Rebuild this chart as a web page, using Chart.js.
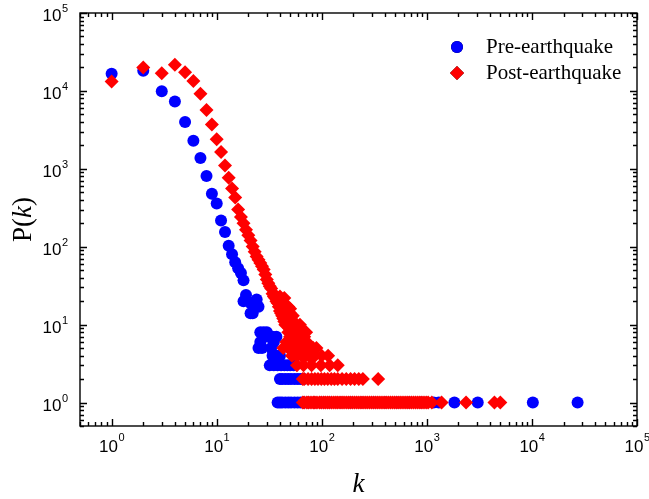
<!DOCTYPE html>
<html>
<head>
<meta charset="utf-8">
<script src="https://cdn.jsdelivr.net/npm/chart.js@4.4.0/dist/chart.umd.min.js"></script>
<style>
    html, body { margin: 0; padding: 0; background: #fff; }
    canvas { display: block; }
</style>
</head>
<body>
<canvas id="degree_chart" width="649" height="499"></canvas>
<script>
    // degree distribution, [k, P(k)]
    var seriesNames = ['Pre-earthquake', 'Post-earthquake'];
    var axisMin = 0.5;
    var axisMax = 100000;
    var decadeTicks = [1, 10, 100, 1000, 10000, 100000];

    var preEarthquake = [
        [1, 16600], [2, 18200], [3, 9900], [4, 7300], [5, 4000], [6, 2300], [7, 1380], [8, 810],
        [9, 480], [10, 360], [11, 217], [12, 155], [13, 103], [14, 80], [15, 63], [16, 53],
        [17, 46], [18, 37], [18, 20], [19, 24], [21, 19], [21, 14], [22, 14], [24, 18],
        [24, 21], [25, 17],
        [26, 8], [28, 8], [30, 8], [26, 6], [25, 5], [27, 5], [33, 5], [35, 6], [31, 7],
        [34, 7], [37, 7], [34, 4], [37, 4], [40, 4],
        [32, 3], [35, 3], [38, 3], [41, 3], [44, 3], [47, 3], [50, 3], [54, 3],
        [40, 2], [42, 2], [45, 2], [48, 2], [51, 2], [55, 2], [59, 2], [63, 2], [67, 2],
        [38, 1], [40, 1], [42, 1], [45, 1], [48, 1], [51, 1], [55, 1], [59, 1], [63, 1],
        [68, 1], [75, 1], [85, 1], [100, 1], [120, 1], [150, 1], [190, 1], [240, 1],
        [310, 1], [400, 1], [520, 1], [680, 1], [880, 1], [1160, 1], [1300, 1], [1830, 1],
        [3050, 1], [10200, 1], [27200, 1]
    ];

    var postEarthquake = [
        [1, 13200], [2, 20000], [3, 16900], [4, 21700], [5, 17400], [6, 13400], [7, 9200],
        [8, 5700], [9, 3700], [10, 2400], [11, 1640], [12, 1100], [13, 770], [14, 560],
        [15, 430], [16, 300], [17, 240], [18, 200], [19, 165], [20, 140], [21, 120], [22, 101],
        [23, 86], [24, 75], [25, 68], [26, 62], [27, 56], [28, 51], [29, 44], [30, 38],
        [31, 34], [32, 31], [33, 29], [34, 25], [35, 23], [36, 22], [37, 20], [38, 19],
        [39, 17], [40, 15], [41, 14], [42, 13], [43, 12], [44, 11], [45, 10], [47, 10],
        [49, 9], [51, 8], [53, 8], [56, 7], [58, 6], [61, 6], [65, 5], [71, 5], [75, 4], [79, 4],
        [36, 24], [40, 23], [44, 22], [41, 19], [45, 18], [48, 17], [50, 16],
        [46, 15], [50, 14], [53, 13], [48, 12], [52, 11], [55, 10], [58, 10], [62, 10],
        [50, 9], [54, 9], [58, 9], [63, 9], [48, 8], [55, 8], [60, 8], [66, 8], [71, 8],
        [50, 7], [60, 7], [64, 7], [68, 7], [46, 6], [52, 6], [56, 6], [65, 6], [72, 6],
        [43, 5], [48, 5], [53, 5], [58, 5], [62, 5], [68, 5], [76, 5], [83, 5], [89, 5],
        [52, 4], [58, 4], [64, 4], [70, 4], [86, 4], [100, 4], [115, 4],
        [58, 3], [67, 3], [80, 3], [98, 3], [119, 3], [142, 3],
        [66, 2], [68, 2], [74, 2], [80, 2], [86, 2], [92, 2], [99, 2], [106, 2], [114, 2],
        [123, 2], [132, 2], [142, 2], [156, 2], [171, 2], [188, 2], [205, 2], [225, 2],
        [246, 2], [344, 2],
        [66, 1], [68, 1], [72, 1], [75, 1], [79, 1], [83, 1], [86, 1], [90, 1], [95, 1],
        [99, 1], [104, 1], [108, 1], [113, 1], [118, 1], [124, 1], [130, 1], [136, 1],
        [142, 1], [149, 1], [156, 1], [163, 1], [171, 1], [179, 1], [187, 1], [196, 1],
        [205, 1], [215, 1], [225, 1], [236, 1], [247, 1], [259, 1], [271, 1], [284, 1],
        [297, 1], [311, 1], [326, 1], [341, 1], [357, 1], [374, 1], [392, 1], [410, 1],
        [430, 1], [450, 1], [471, 1], [493, 1], [516, 1], [541, 1], [566, 1], [593, 1],
        [621, 1], [650, 1], [681, 1], [713, 1], [746, 1], [781, 1], [818, 1], [857, 1],
        [897, 1], [940, 1], [985, 1], [1030, 1], [1115, 1], [1380, 1], [2360, 1], [4400, 1],
        [5000, 1]
    ];

    var preColor = '#0000ff';
    var postColor = '#ff0000';

    function toPoints(pairs) {
        return pairs.map(function (p) { return { x: p[0], y: p[1] }; });
    }

    // Origin-style frame: box, inward ticks on every side, 10^n labels, titles, legend
    var framePlugin = {
        id: 'originFrame',
        afterDraw: function (chart) {
            var ctx = chart.ctx;
            var area = chart.chartArea;
            var xs = chart.scales.x;
            var ys = chart.scales.y;
            var major = 7, minor = 4;

            ctx.save();
            ctx.strokeStyle = '#000';
            ctx.lineWidth = 1.4;
            ctx.strokeRect(area.left, area.top, area.right - area.left, area.bottom - area.top);

            ctx.beginPath();
            for (var d = -1; d <= 5; d++) {
                for (var m = 1; m <= 9; m++) {
                    var v = m * Math.pow(10, d);
                    if (v < axisMin || v > axisMax) continue;
                    var len = m === 1 ? major : minor;
                    var px = Math.round(xs.getPixelForValue(v)) + 0.5;
                    ctx.moveTo(px, area.bottom); ctx.lineTo(px, area.bottom - len);
                    ctx.moveTo(px, area.top); ctx.lineTo(px, area.top + len);
                    var py = Math.round(ys.getPixelForValue(v)) + 0.5;
                    ctx.moveTo(area.left, py); ctx.lineTo(area.left + len, py);
                    ctx.moveTo(area.right, py); ctx.lineTo(area.right - len, py);
                }
            }
            ctx.stroke();

            // tick labels
            var baseFont = '17px "Liberation Sans", Arial, sans-serif';
            var supFont = '11px "Liberation Sans", Arial, sans-serif';
            ctx.fillStyle = '#000';
            ctx.textBaseline = 'alphabetic';
            ctx.textAlign = 'left';
            decadeTicks.forEach(function (v) {
                var exp = String(Math.round(Math.log10(v)));
                ctx.font = baseFont;
                var wBase = ctx.measureText('10').width;
                ctx.font = supFont;
                var wSup = ctx.measureText(exp).width;

                var tx = xs.getPixelForValue(v);
                var left = tx - (wBase + wSup) / 2;
                ctx.font = baseFont;
                ctx.fillText('10', left, 452);
                ctx.font = supFont;
                ctx.fillText(exp, left + wBase + 0.5, 441);

                var ty = ys.getPixelForValue(v);
                var right = area.left - 12;
                ctx.font = supFont;
                ctx.fillText(exp, right - wSup, ty - 1);
                ctx.font = baseFont;
                ctx.fillText('10', right - wSup - 0.5 - wBase, ty + 8);
            });

            // axis titles, k in italics
            var upright = '27px "Liberation Serif", "Times New Roman", serif';
            var italic = 'italic 27px "Liberation Serif", "Times New Roman", serif';
            ctx.font = italic;
            ctx.textAlign = 'center';
            ctx.fillText('k', (area.left + area.right) / 2, 492);

            ctx.save();
            ctx.translate(31, (area.top + area.bottom) / 2);
            ctx.rotate(-Math.PI / 2);
            var parts = [['P(', upright], ['k', italic], [')', upright]];
            var total = 0;
            parts.forEach(function (p) { ctx.font = p[1]; total += ctx.measureText(p[0]).width; });
            var cx = -total / 2;
            ctx.textAlign = 'left';
            parts.forEach(function (p) {
                ctx.font = p[1];
                ctx.fillText(p[0], cx, 0);
                cx += ctx.measureText(p[0]).width;
            });
            ctx.restore();

            // legend
            ctx.font = '21px "Liberation Serif", "Times New Roman", serif';
            ctx.textAlign = 'left';
            chart.data.datasets.forEach(function (ds, i) {
                var ly = 47 + i * 26;
                Chart.helpers.drawPoint(ctx, {
                    pointStyle: ds.pointStyle,
                    radius: ds.pointRadius,
                    borderWidth: 0
                }, 457, ly);
                ctx.fillStyle = ds.backgroundColor;
                ctx.fill();
                ctx.fillStyle = '#000';
                ctx.fillText(ds.label, 486, ly + 6);
            });
            ctx.restore();
        }
    };

    var ctx = document.getElementById('degree_chart').getContext('2d');
    new Chart(ctx, {
        type: 'scatter',
        data: {
            datasets: [{
                label: seriesNames[0],
                data: toPoints(preEarthquake),
                pointStyle: 'circle',
                pointRadius: 6,
                backgroundColor: preColor,
                borderColor: preColor,
                borderWidth: 0,
                order: 1
            }, {
                label: seriesNames[1],
                data: toPoints(postEarthquake),
                pointStyle: 'rectRot',
                pointRadius: 7,
                backgroundColor: postColor,
                borderColor: postColor,
                borderWidth: 0,
                order: 0
            }]
        },
        options: {
            responsive: false,
            animation: false,
            devicePixelRatio: 1,
            events: [],
            layout: { padding: { top: 13, right: 12, left: 0, bottom: 0 } },
            plugins: {
                legend: { display: false },
                tooltip: { enabled: false }
            },
            scales: {
                x: {
                    type: 'logarithmic',
                    min: axisMin,
                    max: axisMax,
                    ticks: { display: false },
                    grid: { display: false },
                    border: { display: false },
                    afterFit: function (scale) { scale.height = 73; }
                },
                y: {
                    type: 'logarithmic',
                    min: axisMin,
                    max: axisMax,
                    ticks: { display: false },
                    grid: { display: false },
                    border: { display: false },
                    afterFit: function (scale) { scale.width = 80; }
                }
            }
        },
        plugins: [framePlugin]
    });
</script>
</body>
</html>
